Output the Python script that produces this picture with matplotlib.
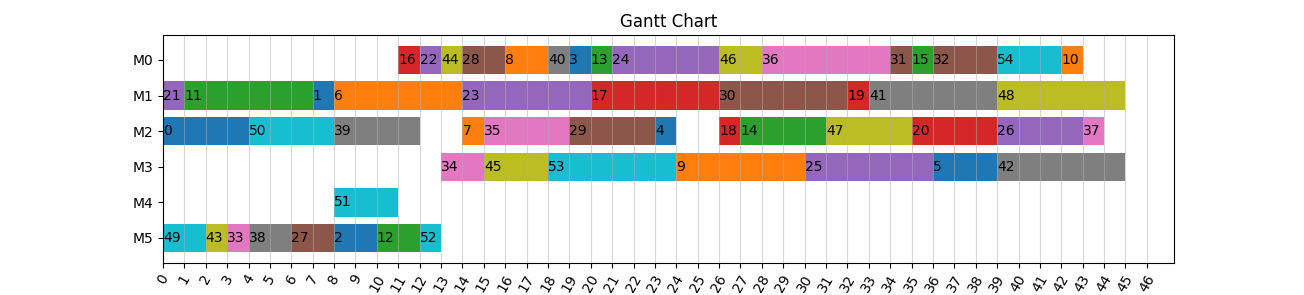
import matplotlib
matplotlib.use("Agg")
import matplotlib.pyplot as plt

machines = ["M0", "M1", "M2", "M3", "M4", "M5"]

# per machine: (task id, start, end)
task_ids = [
    [16, 22, 44, 28, 8, 40, 3, 13, 24, 46, 36, 31, 15, 32, 54, 10],
    [21, 11, 1, 6, 23, 17, 30, 19, 41, 48],
    [0, 50, 39, 7, 35, 29, 4, 18, 14, 47, 20, 26, 37],
    [34, 45, 53, 9, 25, 5, 42],
    [51],
    [49, 43, 33, 38, 27, 2, 12, 52],
]
starts = [
    [11, 12, 13, 14, 16, 18, 19, 20, 21, 26, 28, 34, 35, 36, 39, 42],
    [0, 1, 7, 8, 14, 20, 26, 32, 33, 39],
    [0, 4, 8, 14, 15, 19, 23, 26, 27, 31, 35, 39, 43],
    [13, 15, 18, 24, 30, 36, 39],
    [8],
    [0, 2, 3, 4, 6, 8, 10, 12],
]
ends = [
    [12, 13, 14, 16, 18, 19, 20, 21, 26, 28, 34, 35, 36, 39, 42, 43],
    [1, 7, 8, 14, 20, 26, 32, 33, 39, 45],
    [4, 8, 12, 15, 19, 23, 24, 27, 31, 35, 39, 43, 44],
    [15, 18, 24, 30, 36, 39, 45],
    [11],
    [2, 3, 4, 6, 8, 10, 12, 13],
]
# number of tasks in each job (tasks numbered consecutively)
job_sizes = [6, 5, 5, 5, 6, 6, 5, 5, 6, 6]

task_job = {}
tid = 0
for j, n in enumerate(job_sizes):
    for _ in range(n):
        task_job[tid] = j
        tid += 1

colors = plt.get_cmap("tab10").colors

fig, ax = plt.subplots(figsize=(13.04, 2.95), dpi=100)
makespan = 0
for m, name in enumerate(machines):
    for t, s, e in zip(task_ids[m], starts[m], ends[m]):
        ax.barh(m, e - s, left=s, height=0.8, color=colors[task_job[t] % 10])
        ax.text(s, m, str(t), va="center", ha="left", fontsize=10, color="black")
        makespan = max(makespan, e)

ax.set_yticks(range(len(machines)))
ax.set_yticklabels(machines)
ax.invert_yaxis()
ax.set_xticks(range(0, makespan + 2))
ax.set_xlim(0, makespan * 1.05)
plt.setp(ax.get_xticklabels(), rotation=60)
ax.grid(axis="x", color="#b0b0b0", alpha=0.5)
ax.set_title("Gantt Chart")
fig.savefig("out.png", dpi=100)
